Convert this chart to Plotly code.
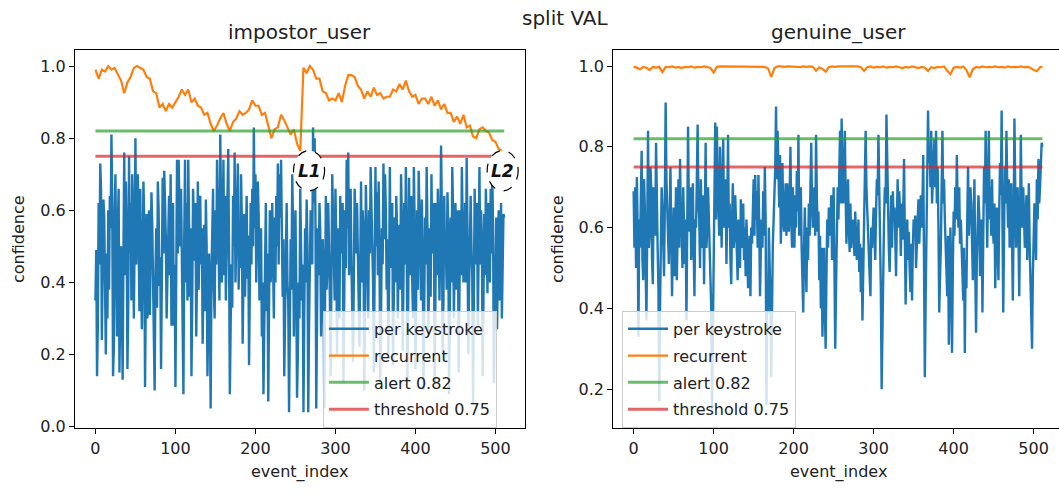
import plotly.graph_objects as go

W, H = 1059, 493
FONT = "DejaVu Sans"

# ---------------- data ----------------
keystroke_events = list(range(512))                # 0 .. 511
recurrent_events = list(range(0, 512, 4)) + [511]  # 0 .. 508, 511

impostor_keystroke = [
    0.35, 0.49, 0.14, 0.28, 0.62, 0.45, 0.73, 0.66, 0.24, 0.40, 0.63, 0.58, 0.23, 0.20, 0.48, 0.30,
    0.60, 0.38, 0.64, 0.55, 0.81, 0.62, 0.14, 0.22, 0.59, 0.70, 0.43, 0.25, 0.56, 0.66, 0.15, 0.30,
    0.50, 0.36, 0.13, 0.48, 0.76, 0.42, 0.68, 0.55, 0.16, 0.33, 0.75, 0.48, 0.62, 0.35, 0.70, 0.58,
    0.30, 0.52, 0.80, 0.45, 0.64, 0.70, 0.51, 0.32, 0.66, 0.52, 0.27, 0.45, 0.68, 0.57, 0.11, 0.38,
    0.59, 0.30, 0.44, 0.60, 0.31, 0.50, 0.65, 0.56, 0.41, 0.35, 0.10, 0.42, 0.55, 0.33, 0.68, 0.60,
    0.39, 0.47, 0.16, 0.40, 0.69, 0.48, 0.71, 0.62, 0.52, 0.30, 0.45, 0.56, 0.64, 0.42, 0.70, 0.28,
    0.50, 0.62, 0.28, 0.45, 0.11, 0.38, 0.74, 0.48, 0.74, 0.60, 0.50, 0.66, 0.45, 0.30, 0.09, 0.52,
    0.74, 0.40, 0.62, 0.35, 0.74, 0.56, 0.36, 0.55, 0.14, 0.35, 0.66, 0.58, 0.46, 0.62, 0.25, 0.44,
    0.68, 0.38, 0.52, 0.64, 0.45, 0.55, 0.23, 0.40, 0.56, 0.32, 0.63, 0.50, 0.14, 0.30, 0.48, 0.36,
    0.05, 0.42, 0.58, 0.66, 0.38, 0.30, 0.60, 0.45, 0.74, 0.55, 0.48, 0.35, 0.81, 0.62, 0.40, 0.55,
    0.74, 0.42, 0.64, 0.35, 0.52, 0.60, 0.77, 0.48, 0.09, 0.28, 0.45, 0.33, 0.64, 0.50, 0.76, 0.40,
    0.58, 0.62, 0.73, 0.38, 0.52, 0.44, 0.70, 0.57, 0.23, 0.40, 0.59, 0.36, 0.56, 0.64, 0.41, 0.53,
    0.17, 0.38, 0.62, 0.45, 0.66, 0.50, 0.83, 0.55, 0.70, 0.40, 0.53, 0.68, 0.59, 0.35, 0.42, 0.55,
    0.25, 0.40, 0.09, 0.30, 0.55, 0.62, 0.32, 0.48, 0.07, 0.35, 0.60, 0.40, 0.46, 0.62, 0.39, 0.30,
    0.58, 0.40, 0.64, 0.50, 0.73, 0.45, 0.70, 0.58, 0.74, 0.60, 0.36, 0.52, 0.14, 0.30, 0.55, 0.62,
    0.40, 0.35, 0.04, 0.25, 0.52, 0.38, 0.70, 0.55, 0.25, 0.45, 0.60, 0.38, 0.08, 0.20, 0.40, 0.30,
    0.66, 0.50, 0.35, 0.45, 0.04, 0.30, 0.55, 0.40, 0.63, 0.50, 0.04, 0.28, 0.42, 0.60, 0.55, 0.45,
    0.83, 0.62, 0.80, 0.58, 0.05, 0.30, 0.55, 0.42, 0.62, 0.55, 0.25, 0.40, 0.52, 0.45, 0.05, 0.35,
    0.64, 0.38, 0.45, 0.62, 0.50, 0.36, 0.14, 0.45, 0.70, 0.58, 0.50, 0.35, 0.66, 0.52, 0.20, 0.55,
    0.42, 0.30, 0.64, 0.48, 0.55, 0.62, 0.12, 0.40, 0.60, 0.44, 0.74, 0.55, 0.76, 0.42, 0.60, 0.66,
    0.45, 0.30, 0.18, 0.42, 0.66, 0.58, 0.48, 0.62, 0.40, 0.35, 0.22, 0.50, 0.68, 0.40, 0.60, 0.55,
    0.10, 0.32, 0.67, 0.56, 0.45, 0.30, 0.60, 0.48, 0.72, 0.62, 0.50, 0.40, 0.15, 0.35, 0.72, 0.50,
    0.65, 0.42, 0.68, 0.50, 0.12, 0.30, 0.55, 0.45, 0.73, 0.52, 0.70, 0.60, 0.38, 0.52, 0.20, 0.38,
    0.72, 0.44, 0.55, 0.62, 0.17, 0.32, 0.58, 0.40, 0.64, 0.55, 0.30, 0.48, 0.56, 0.38, 0.70, 0.58,
    0.21, 0.40, 0.62, 0.45, 0.72, 0.55, 0.13, 0.35, 0.69, 0.42, 0.55, 0.64, 0.40, 0.30, 0.72, 0.56,
    0.16, 0.42, 0.60, 0.38, 0.71, 0.60, 0.50, 0.35, 0.63, 0.48, 0.10, 0.30, 0.58, 0.45, 0.72, 0.55,
    0.25, 0.40, 0.55, 0.36, 0.70, 0.48, 0.58, 0.62, 0.12, 0.30, 0.62, 0.42, 0.66, 0.56, 0.35, 0.50,
    0.78, 0.60, 0.18, 0.35, 0.64, 0.45, 0.50, 0.38, 0.65, 0.55, 0.09, 0.32, 0.58, 0.40, 0.72, 0.60,
    0.30, 0.45, 0.62, 0.38, 0.55, 0.60, 0.15, 0.35, 0.60, 0.42, 0.72, 0.56, 0.40, 0.50, 0.62, 0.40,
    0.745, 0.55, 0.20, 0.38, 0.59, 0.64, 0.50, 0.42, 0.06, 0.30, 0.66, 0.45, 0.55, 0.62, 0.28, 0.50,
    0.72, 0.45, 0.60, 0.52, 0.14, 0.35, 0.59, 0.42, 0.66, 0.55, 0.37, 0.62, 0.55, 0.40, 0.66, 0.48,
    0.71, 0.55, 0.12, 0.30, 0.45, 0.58, 0.27, 0.40, 0.60, 0.35, 0.52, 0.62, 0.30, 0.45, 0.59, 0.58,
]

impostor_recurrent = [
    0.99, 0.965, 0.99, 0.985, 1.0, 0.99, 0.995, 0.975, 0.96, 0.925,
    0.955, 0.97, 0.995, 1.0, 0.995, 0.99, 0.97, 0.965, 0.93, 0.925,
    0.885, 0.895, 0.875, 0.895, 0.885, 0.90, 0.915, 0.935, 0.92, 0.935,
    0.90, 0.91, 0.89, 0.885, 0.865, 0.87, 0.84, 0.82, 0.835, 0.855,
    0.87, 0.84, 0.82, 0.845, 0.855, 0.875, 0.865, 0.87, 0.88, 0.905,
    0.89, 0.89, 0.865, 0.87, 0.835, 0.80, 0.825, 0.83, 0.865, 0.85,
    0.83, 0.81, 0.825, 0.785, 0.765, 0.995, 0.98, 1.0, 0.99, 0.965,
    0.965, 0.93, 0.925, 0.905, 0.91, 0.905, 0.925, 0.90, 0.945, 0.975,
    0.975, 0.97, 0.945, 0.935, 0.91, 0.93, 0.915, 0.94, 0.92, 0.925,
    0.91, 0.915, 0.915, 0.935, 0.93, 0.95, 0.935, 0.96, 0.93, 0.915,
    0.92, 0.895, 0.91, 0.91, 0.895, 0.915, 0.89, 0.905, 0.88, 0.895,
    0.87, 0.87, 0.845, 0.86, 0.84, 0.865, 0.83, 0.835, 0.805, 0.80,
    0.825, 0.83, 0.82, 0.815, 0.795, 0.79, 0.77, 0.765, 0.755,
]

genuine_keystroke = [
    0.69, 0.55, 0.70, 0.50, 0.725, 0.60, 0.33, 0.62, 0.55, 0.68, 0.79, 0.52, 0.47, 0.72, 0.65, 0.50,
    0.37, 0.60, 0.84, 0.55, 0.59, 0.75, 0.70, 0.52, 0.46, 0.70, 0.65, 0.58, 0.81, 0.62, 0.55, 0.45,
    0.17, 0.40, 0.55, 0.70, 0.65, 0.52, 0.48, 0.66, 0.91, 0.72, 0.65, 0.55, 0.51, 0.62, 0.75, 0.58,
    0.43, 0.56, 0.65, 0.48, 0.59, 0.70, 0.47, 0.62, 0.72, 0.55, 0.77, 0.63, 0.59, 0.50, 0.70, 0.60,
    0.51, 0.62, 0.37, 0.60, 0.85, 0.66, 0.59, 0.70, 0.52, 0.64, 0.71, 0.55, 0.43, 0.62, 0.60, 0.72,
    0.855, 0.66, 0.62, 0.50, 0.72, 0.60, 0.55, 0.68, 0.46, 0.63, 0.81, 0.55, 0.60, 0.70, 0.63, 0.55,
    0.47, 0.40, 0.15, 0.35, 0.55, 0.70, 0.86, 0.62, 0.85, 0.72, 0.67, 0.58, 0.80, 0.66, 0.55, 0.70,
    0.82, 0.60, 0.63, 0.72, 0.51, 0.65, 0.83, 0.60, 0.66, 0.52, 0.46, 0.62, 0.71, 0.55, 0.58, 0.68,
    0.60, 0.52, 0.47, 0.62, 0.56, 0.50, 0.67, 0.55, 0.60, 0.66, 0.52, 0.60, 0.48, 0.62, 0.56, 0.45,
    0.49, 0.58, 0.43, 0.60, 0.56, 0.66, 0.72, 0.58, 0.73, 0.62, 0.69, 0.55, 0.73, 0.60, 0.43, 0.55,
    0.62, 0.55, 0.69, 0.58, 0.75, 0.62, 0.16, 0.45, 0.39, 0.60, 0.51, 0.42, 0.23, 0.48, 0.56, 0.62,
    0.67, 0.75, 0.90, 0.72, 0.84, 0.70, 0.65, 0.78, 0.56, 0.66, 0.76, 0.62, 0.59, 0.66, 0.71, 0.58,
    0.71, 0.62, 0.59, 0.68, 0.80, 0.62, 0.55, 0.70, 0.64, 0.55, 0.68, 0.60, 0.74, 0.64, 0.83, 0.58,
    0.61, 0.70, 0.55, 0.45, 0.39, 0.55, 0.65, 0.52, 0.44, 0.60, 0.52, 0.66, 0.58, 0.70, 0.81, 0.66,
    0.60, 0.66, 0.70, 0.58, 0.83, 0.68, 0.59, 0.64, 0.47, 0.58, 0.40, 0.55, 0.33, 0.45, 0.55, 0.40,
    0.30, 0.48, 0.62, 0.55, 0.65, 0.58, 0.60, 0.68, 0.52, 0.60, 0.70, 0.50, 0.30, 0.45, 0.55, 0.70,
    0.62, 0.72, 0.84, 0.66, 0.87, 0.74, 0.66, 0.72, 0.84, 0.68, 0.56, 0.64, 0.72, 0.60, 0.54, 0.66,
    0.55, 0.60, 0.62, 0.58, 0.53, 0.64, 0.59, 0.52, 0.56, 0.62, 0.49, 0.56, 0.44, 0.55, 0.37, 0.48,
    0.55, 0.66, 0.84, 0.70, 0.63, 0.58, 0.55, 0.48, 0.43, 0.60, 0.55, 0.62, 0.65, 0.58, 0.52, 0.64,
    0.72, 0.68, 0.83, 0.70, 0.59, 0.45, 0.20, 0.40, 0.55, 0.62, 0.70, 0.66, 0.88, 0.72, 0.59, 0.55,
    0.49, 0.60, 0.68, 0.55, 0.69, 0.62, 0.65, 0.58, 0.48, 0.62, 0.72, 0.60, 0.69, 0.64, 0.53, 0.66,
    0.57, 0.64, 0.77, 0.58, 0.41, 0.55, 0.62, 0.52, 0.59, 0.50, 0.44, 0.56, 0.42, 0.55, 0.62, 0.58,
    0.63, 0.50, 0.55, 0.62, 0.67, 0.56, 0.63, 0.68, 0.60, 0.66, 0.78, 0.55, 0.23, 0.42, 0.60, 0.72,
    0.89, 0.76, 0.80, 0.70, 0.84, 0.66, 0.71, 0.78, 0.82, 0.70, 0.84, 0.66, 0.75, 0.60, 0.39, 0.48,
    0.55, 0.70, 0.84, 0.66, 0.72, 0.62, 0.56, 0.50, 0.43, 0.58, 0.31, 0.45, 0.60, 0.48, 0.29, 0.50,
    0.64, 0.58, 0.70, 0.62, 0.78, 0.66, 0.60, 0.70, 0.56, 0.62, 0.55, 0.48, 0.42, 0.55, 0.29, 0.52,
    0.45, 0.62, 0.75, 0.58, 0.63, 0.70, 0.66, 0.55, 0.47, 0.62, 0.72, 0.50, 0.34, 0.52, 0.60, 0.68,
    0.63, 0.48, 0.55, 0.62, 0.39, 0.58, 0.75, 0.66, 0.84, 0.68, 0.55, 0.70, 0.84, 0.62, 0.70, 0.58,
    0.72, 0.60, 0.56, 0.66, 0.45, 0.58, 0.65, 0.55, 0.47, 0.64, 0.76, 0.68, 0.89, 0.62, 0.39, 0.58,
    0.75, 0.66, 0.84, 0.70, 0.60, 0.72, 0.55, 0.64, 0.71, 0.56, 0.42, 0.62, 0.87, 0.70, 0.55, 0.64,
    0.70, 0.58, 0.43, 0.62, 0.83, 0.66, 0.60, 0.70, 0.64, 0.55, 0.61, 0.68, 0.52, 0.60, 0.71, 0.56,
    0.47, 0.45, 0.30, 0.48, 0.55, 0.66, 0.60, 0.52, 0.72, 0.62, 0.77, 0.66, 0.70, 0.74, 0.81, 0.80,
]

genuine_recurrent = [
    0.998, 0.996, 0.992, 0.998, 0.996, 0.990, 0.998, 0.996, 0.998, 0.985,
    0.998, 0.997, 0.999, 0.996, 0.998, 0.995, 0.998, 0.997, 0.999, 0.996,
    0.998, 0.997, 0.999, 0.997, 0.995, 0.984, 0.998, 0.999, 0.999, 0.999,
    0.999, 0.999, 0.999, 0.999, 0.999, 0.999, 0.999, 0.998, 0.999, 0.999,
    0.999, 0.998, 0.994, 0.973, 0.995, 0.999, 0.999, 0.998, 0.999, 0.999,
    0.999, 0.998, 0.997, 0.999, 0.998, 0.999, 0.998, 0.988, 0.997, 0.993,
    0.986, 0.997, 0.999, 0.998, 0.999, 0.999, 0.999, 0.999, 0.998, 0.999,
    0.999, 0.997, 0.988, 0.997, 0.999, 0.996, 0.998, 0.997, 0.999, 0.996,
    0.998, 0.997, 0.999, 0.997, 0.995, 0.998, 0.996, 0.999, 0.997, 0.995,
    0.998, 0.996, 0.988, 0.997, 0.995, 0.998, 0.997, 0.999, 0.988, 0.980,
    0.996, 0.998, 0.996, 0.999, 0.990, 0.972, 0.992, 0.998, 0.996, 0.999,
    0.997, 0.998, 0.997, 0.999, 0.997, 0.998, 0.996, 0.999, 0.997, 0.998,
    0.997, 0.999, 0.997, 0.998, 0.996, 0.990, 0.987, 0.997, 0.999,
]

ALERT = 0.82
THRESHOLD = 0.75
series_names = ["per keystroke", "recurrent", "alert 0.82", "threshold 0.75"]
series_colors = ["#1f77b4", "#ff7f0e", "#2ca02c", "#d62728"]
panel_titles = ["impostor_user", "genuine_user"]
suptitle = "split VAL"
x_label = "event_index"
y_label = "confidence"
x_ticks = [0, 100, 200, 300, 400, 500]
left_y_ticks = [0.0, 0.2, 0.4, 0.6, 0.8, 1.0]
right_y_ticks = [0.2, 0.4, 0.6, 0.8, 1.0]
loss_marks = [("L1", 267), ("L2", 509)]
loss_mark_level = 0.71


def fx(p):
    return p / W


def fy(p):
    return 1 - p / H


fig = go.Figure()

panels = [
    dict(xa="x", ya="y", legend="legend",
         keystroke=impostor_keystroke, recurrent=impostor_recurrent),
    dict(xa="x2", ya="y2", legend="legend2",
         keystroke=genuine_keystroke, recurrent=genuine_recurrent),
]

for k, p in enumerate(panels):
    def common(name):
        return dict(mode="lines", xaxis=p["xa"], yaxis=p["ya"], legend=p["legend"],
                    legendgroup=f"{k}-{name}", hoverinfo="skip", name=name)
    fig.add_trace(go.Scatter(x=keystroke_events, y=p["keystroke"],
                             line=dict(color=series_colors[0], width=2.4),
                             **common(series_names[0])))
    fig.add_trace(go.Scatter(x=recurrent_events, y=p["recurrent"],
                             line=dict(color=series_colors[1], width=2.2),
                             **common(series_names[1])))
    x_span = [keystroke_events[0], keystroke_events[-1]]
    fig.add_trace(go.Scatter(x=x_span, y=[ALERT, ALERT], opacity=0.7,
                             line=dict(color=series_colors[2], width=3),
                             **common(series_names[2])))
    fig.add_trace(go.Scatter(x=x_span, y=[THRESHOLD, THRESHOLD], opacity=0.7,
                             line=dict(color=series_colors[3], width=3),
                             **common(series_names[3])))

axis_common = dict(showline=True, linecolor="black", linewidth=1, ticks="outside",
                   ticklen=5, tickwidth=1, tickcolor="black", showgrid=False,
                   zeroline=False,
                   tickfont=dict(family=FONT, size=16, color="#222222"))

legend_common = dict(xanchor="left", yanchor="top", bgcolor="rgba(255,255,255,0.8)",
                     bordercolor="#cccccc", borderwidth=1,
                     font=dict(family=FONT, size=16, color="#222222"), itemwidth=40,
                     traceorder="grouped", tracegroupgap=3)

y_dom = [fy(435.5), fy(50.7)]
fig.update_layout(
    width=W, height=H,
    margin=dict(l=0, r=0, t=0, b=0),
    paper_bgcolor="white", plot_bgcolor="white",
    font=dict(family=FONT, color="#222222"),
    xaxis=dict(domain=[fx(75), fx(524.7)], range=[-25.55, 536.55], tickvals=x_ticks,
               mirror=True, anchor="y", **axis_common),
    yaxis=dict(domain=y_dom, range=[-0.005, 1.045], tickvals=left_y_ticks,
               ticktext=[f"{v:.1f}" for v in left_y_ticks], mirror=True, anchor="x",
               **axis_common),
    xaxis2=dict(domain=[fx(613.2), 1.0], range=[-25.55, 531.7], tickvals=x_ticks,
                mirror=True, anchor="y2", **axis_common),
    yaxis2=dict(domain=y_dom, range=[0.103, 1.04], tickvals=right_y_ticks,
                ticktext=[f"{v:.1f}" for v in right_y_ticks], mirror=False, anchor="x2",
                **axis_common),
    legend=dict(x=fx(322.9), y=fy(316), **legend_common),
    legend2=dict(x=fx(622), y=fy(316), **legend_common),
    showlegend=True,
)

annotations = [
    dict(text=suptitle, x=fx(565), y=fy(18), xref="paper", yref="paper",
         showarrow=False, font=dict(family=FONT, size=20, color="#222222"),
         xanchor="center", yanchor="middle"),
]
for title, (l, r) in zip(panel_titles, [(75, 524.7), (613.2, 1063)]):
    annotations.append(dict(text=title, x=fx((l + r) / 2), y=fy(33), xref="paper",
                            yref="paper", showarrow=False,
                            font=dict(family=FONT, size=20, color="#222222"),
                            xanchor="center", yanchor="middle"))
    annotations.append(dict(text=x_label, x=fx((l + r) / 2), y=fy(480), xref="paper",
                            yref="paper", showarrow=False,
                            font=dict(family=FONT, size=16, color="#222222"),
                            xanchor="center", yanchor="middle"))
for xpix in [18, 557]:
    annotations.append(dict(text=y_label, x=fx(xpix), y=fy(243), xref="paper",
                            yref="paper", showarrow=False, textangle=-90,
                            font=dict(family=FONT, size=16, color="#222222"),
                            xanchor="center", yanchor="middle"))

shapes = []
half_w = 19.4   # event units (~31 px)
half_h = 0.056  # confidence units (~41 px)
for label, ev in loss_marks:
    shapes.append(dict(type="circle", xref="x", yref="y",
                       x0=ev - half_w, x1=ev + half_w,
                       y0=loss_mark_level - half_h, y1=loss_mark_level + half_h,
                       fillcolor="white", line=dict(color="black", width=1.2, dash="dash"),
                       layer="above"))
    annotations.append(dict(text=f"<b><i>{label}</i></b>", x=ev, y=loss_mark_level,
                            xref="x", yref="y", showarrow=False,
                            font=dict(family=FONT, size=17, color="#111111"),
                            xanchor="center", yanchor="middle"))

fig.update_layout(annotations=annotations, shapes=shapes)

fig.write_html("out.html")
